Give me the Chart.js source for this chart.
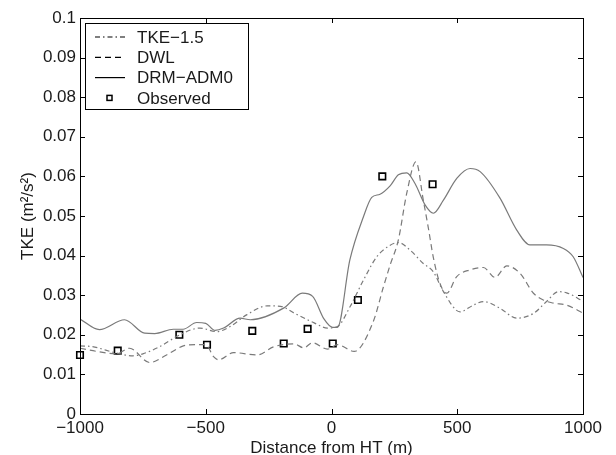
<!DOCTYPE html>
<html>
<head>
<meta charset="utf-8">
<script src="https://cdn.jsdelivr.net/npm/chart.js@4/dist/chart.umd.min.js"></script>
<style>
  html, body { margin: 0; padding: 0; background: #fff; }
  #wrap { width: 616px; height: 455px; }
</style>
</head>
<body>
<div id="wrap"><canvas id="c" width="616" height="455"></canvas></div>
<script>
// ── 数据 ──
const xTicks = [-1000, -500, 0, 500, 1000];
const yTicks = [0, 0.01, 0.02, 0.03, 0.04, 0.05, 0.06, 0.07, 0.08, 0.09, 0.1];

// TKE-1.5 (点划线)
const tkeX = [-1000, -950, -856, -789, -750, -683, -603, -523, -456, -403, -336, -256, -203, -149, -69, -16, 24,
  73, 127, 180, 230, 266, 312, 365, 405, 445, 511, 564, 604, 670, 736, 803, 855, 902, 935, 1000];
const tkeY = [0.0172, 0.0170, 0.0154, 0.0147, 0.0152, 0.0170, 0.0200, 0.0217, 0.0208, 0.0221, 0.0251, 0.0273, 0.0272, 0.0255, 0.0230, 0.0217, 0.0221,
  0.0270, 0.0338, 0.0397, 0.0425, 0.0433, 0.0414, 0.0380, 0.0359, 0.0309, 0.0258, 0.0275, 0.0284, 0.0267, 0.0242, 0.0254, 0.0284, 0.0309, 0.0306, 0.0285];

// DWL (虚线)
const dwlX = [-1000, -923, -856, -803, -723, -656, -589, -540, -500, -469, -449, -389, -296, -229, -149, -110, -76, -16, 24,
  90, 167, 206, 233, 266, 299, 336, 365, 385, 405, 431, 458, 498, 551, 604, 650, 697, 750, 803, 842, 882, 935, 1000];
const dwlY = [0.0166, 0.0157, 0.0152, 0.0166, 0.0130, 0.0149, 0.0172, 0.0175, 0.0175, 0.0145, 0.0137, 0.0155, 0.0149, 0.0170, 0.0177, 0.0167, 0.0180, 0.0164, 0.0175,
  0.0158, 0.0235, 0.0320, 0.0376, 0.0440, 0.0557, 0.0637, 0.0540, 0.0470, 0.0395, 0.0330, 0.0305, 0.0347, 0.0364, 0.0370, 0.0345, 0.0374, 0.0355, 0.0305, 0.0288, 0.0280, 0.0275, 0.0255];

// DRM-ADM0 (实线)
const drmX = [-1000, -923, -823, -743, -703, -629, -590, -536, -500, -463, -429, -363, -323, -189, -116, -75, -30, 4, 24,
  73, 127, 160, 193, 233, 266, 299, 332, 372, 405, 445, 498, 551, 591, 670, 736, 789, 855, 922, 961, 1000];
const drmY = [0.0240, 0.0213, 0.0238, 0.0204, 0.0203, 0.0214, 0.0214, 0.0231, 0.0229, 0.0211, 0.0217, 0.0242, 0.0238, 0.0268, 0.0305, 0.0297, 0.0240, 0.0219, 0.0219,
  0.0389, 0.0498, 0.0547, 0.0555, 0.0576, 0.0604, 0.0609, 0.0582, 0.0528, 0.0507, 0.0540, 0.0595, 0.0620, 0.0612, 0.0545, 0.0465, 0.0427, 0.0427, 0.0418, 0.0397, 0.0345];

// Observed (方块)
const obsX = [-1000, -850, -605, -495, -315, -190, -95, 5, 105, 202, 402];
const obsY = [0.0149, 0.0160, 0.0200, 0.0175, 0.0210, 0.0178, 0.0215, 0.0178, 0.0288, 0.0600, 0.0580];

const FONT = '"Liberation Sans", Arial, sans-serif';
const TXT = '#1a1a1a';
const LINE_GRAY = '#7a7a7a';
const DASH = [6, 4];
const DASHDOT = [5, 3, 1.5, 3];

const pts = (xs, ys) => xs.map((x, i) => ({ x, y: ys[i] }));
const fmtX = v => String(v).replace('-', '\u2212');
const fmtY = v => String(+Number(v).toFixed(2));

function lineDs(label, xs, ys, dash) {
  return {
    label, data: pts(xs, ys),
    showLine: true,
    borderColor: LINE_GRAY,
    borderWidth: 1.2,
    borderDash: dash,
    pointRadius: 0,
    tension: 0.35,
    cubicInterpolationMode: 'monotone',
  };
}

// 边框、内向刻度和图例
const framePlugin = {
  id: 'frame',
  afterDraw(chart) {
    const { ctx, chartArea: a, scales: { x, y } } = chart;
    ctx.save();
    ctx.strokeStyle = '#000';
    ctx.lineWidth = 1;
    ctx.setLineDash([]);
    ctx.strokeRect(a.left + 0.5, a.top + 0.5, a.right - a.left, a.bottom - a.top);
    const tl = 5;
    ctx.beginPath();
    xTicks.forEach(v => {
      const px = Math.round(x.getPixelForValue(v)) + 0.5;
      ctx.moveTo(px, a.bottom); ctx.lineTo(px, a.bottom - tl);
      ctx.moveTo(px, a.top); ctx.lineTo(px, a.top + tl);
    });
    yTicks.forEach(v => {
      const py = Math.round(y.getPixelForValue(v)) + 0.5;
      ctx.moveTo(a.left, py); ctx.lineTo(a.left + tl, py);
      ctx.moveTo(a.right, py); ctx.lineTo(a.right - tl, py);
    });
    ctx.stroke();

    // 图例
    const lx = 85, ly = 23, lw = 163, lh = 86;
    ctx.fillStyle = '#fff';
    ctx.fillRect(lx, ly, lw, lh);
    ctx.strokeRect(lx + 0.5, ly + 0.5, lw, lh);
    const items = [
      { t: 'TKE\u22121.5', dash: DASHDOT },
      { t: 'DWL', dash: DASH },
      { t: 'DRM\u2212ADM0', dash: [] },
      { t: 'Observed', box: true },
    ];
    ctx.font = '17px ' + FONT;
    ctx.textBaseline = 'middle';
    items.forEach((it, i) => {
      const cy = ly + 14 + i * 20.3;
      ctx.strokeStyle = '#000';
      if (it.box) {
        ctx.setLineDash([]);
        ctx.lineWidth = 1.5;
        ctx.strokeRect(107, cy - 2.5, 5, 5);
      } else {
        ctx.setLineDash(it.dash);
        ctx.lineWidth = 1.2;
        ctx.beginPath();
        ctx.moveTo(95, cy); ctx.lineTo(125, cy);
        ctx.stroke();
      }
      ctx.setLineDash([]);
      ctx.fillStyle = TXT;
      ctx.fillText(it.t, 137, cy + 1);
    });
    ctx.restore();
  },
};

new Chart(document.getElementById('c'), {
  type: 'scatter',
  data: {
    datasets: [
      lineDs('TKE-1.5', tkeX, tkeY, DASHDOT),
      lineDs('DWL', dwlX, dwlY, DASH),
      lineDs('DRM-ADM0', drmX, drmY, []),
      {
        label: 'Observed', data: pts(obsX, obsY),
        pointStyle: 'rect', pointRadius: 4.6,
        backgroundColor: 'rgba(0,0,0,0)', borderColor: '#000', pointBorderWidth: 1.6,
        clip: false,
      },
    ],
  },
  options: {
    responsive: false,
    animation: false,
    layout: { padding: { left: 0, right: 33, top: 18, bottom: 0 } },
    plugins: { legend: { display: false }, tooltip: { enabled: false } },
    scales: {
      x: {
        type: 'linear', min: -1000, max: 1000,
        afterFit: s => { s.height = 41; },
        afterBuildTicks: s => { s.ticks = xTicks.map(value => ({ value })); },
        grid: { display: false, drawTicks: false },
        border: { display: false },
        ticks: { callback: fmtX, color: TXT, font: { family: FONT, size: 17 }, padding: 4, maxRotation: 0 },
        title: { display: true, text: 'Distance from HT (m)', color: TXT,
                 font: { family: FONT, size: 17, lineHeight: 0.82 }, padding: { top: 0, bottom: 0 } },
      },
      y: {
        type: 'linear', min: 0, max: 0.1,
        afterFit: s => { s.width = 80; },
        afterBuildTicks: s => { s.ticks = yTicks.map(value => ({ value })); },
        grid: { display: false, drawTicks: false },
        border: { display: false },
        ticks: { callback: fmtY, color: TXT, font: { family: FONT, size: 17 }, padding: 4 },
        title: { display: true, text: 'TKE (m\u00B2/s\u00B2)', color: TXT,
                 font: { family: FONT, size: 17 }, padding: { top: 18, bottom: 0 } },
      },
    },
  },
  plugins: [framePlugin],
});
</script>
</body>
</html>
